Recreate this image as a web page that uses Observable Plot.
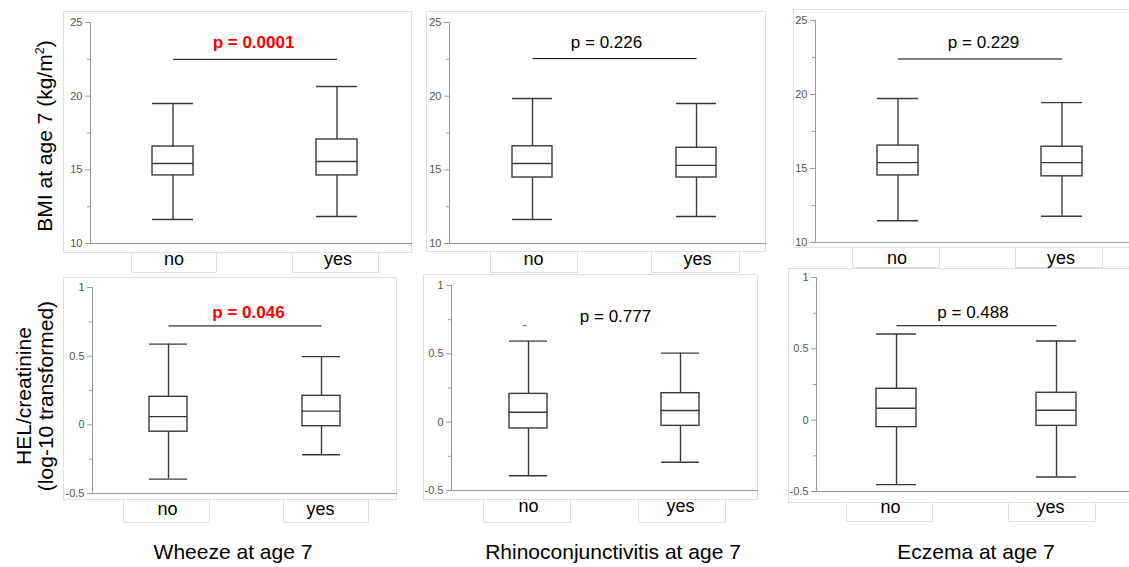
<!DOCTYPE html>
<html><head><meta charset="utf-8">
<script src="https://cdn.jsdelivr.net/npm/d3@7"></script>
<script src="https://cdn.jsdelivr.net/npm/@observablehq/plot@0.6"></script>
<style>
body{margin:0;background:#fff;font-family:"Liberation Sans",Arial,sans-serif;}
#fig{position:relative;width:1129px;height:567px;overflow:hidden;background:#fff;}
.frame{position:absolute;border:1px solid #e0e0e0;box-sizing:border-box;}
.cell{position:absolute;border:1px solid #e0e0e0;border-top:none;box-sizing:border-box;}
.panel{position:absolute;overflow:visible;}
.ytitle{position:absolute;font-size:21px;white-space:nowrap;transform:translate(-50%,-50%) rotate(-90deg);text-align:center;line-height:22px;color:#000;}
.ytitle sup{font-size:0.6em;line-height:0;}
.xtitle{position:absolute;font-size:21px;line-height:22px;transform:translateX(-50%);white-space:nowrap;color:#000;}
</style></head><body><div id="fig"></div>
<script>
// ---------------- data ----------------
const groups = ["no", "yes"];
const exposures = ["Wheeze at age 7", "Rhinoconjunctivitis at age 7", "Eczema at age 7"];
const outcomeTitles = ["BMI at age 7 (kg/m<sup>2</sup>)", "HEL/creatinine<br>(log-10 transformed)"];

// BMI (per exposure: [no, yes])
const bmiLow    = [[11.63, 11.83], [11.63, 11.83], [11.47, 11.77]];
const bmiQ1     = [[14.62, 14.62], [14.48, 14.48], [14.53, 14.47]];
const bmiMedian = [[15.43, 15.57], [15.43, 15.30], [15.40, 15.40]];
const bmiQ3     = [[16.58, 17.06], [16.60, 16.50], [16.55, 16.47]];
const bmiHigh   = [[19.50, 20.66], [19.84, 19.50], [19.73, 19.45]];
const bmiTicks = [10, 15, 20, 25];
const bmiMinorTicks = [12.5, 17.5, 22.5];
const bmiDomain = [10, 25];

// HEL/creatinine (log-10)
const helLow    = [[-0.395, -0.218], [-0.392, -0.293], [-0.452, -0.398]];
const helQ1     = [[-0.050, -0.010], [-0.046, -0.027], [-0.049, -0.040]];
const helMedian = [[0.060, 0.100], [0.073, 0.085], [0.084, 0.070]];
const helQ3     = [[0.204, 0.211], [0.207, 0.212], [0.220, 0.192]];
const helHigh   = [[0.588, 0.497], [0.593, 0.505], [0.604, 0.555]];
const helOutliers = [[], [{group: "no", value: 0.707}], []];
const helTicks = [-0.5, 0, 0.5, 1];
const helMinorTicks = [-0.25, 0.25, 0.75];
const helDomain = [-0.5, 1];

// p-values
const bmiP = ["p = 0.0001", "p = 0.226", "p = 0.229"];
const helP = ["p = 0.046", "p = 0.777", "p = 0.488"];
const bmiSignificant = [true, false, false];
const helSignificant = [true, false, false];
const bmiBracketY = [22.5, 22.55, 22.4];
const helBracketY = [0.72, 0.678, 0.662];
const bmiBracketShown = [true, true, true];
const helBracketShown = [true, false, true];

// ---------------- layout (pixels) ----------------
const layout = [
  [
    {left: 63, top: 11, axisX: 90, yTop: 22, yBot: 243, cNo: 172.5, cYes: 336.5, bw: 41, pDx: 2.5, labelDx: 1,
     frame: [63, 11, 412, 253], cells: [[131, 217], [292, 379]], cellBottom: 273},
    {left: 426, top: 11, axisX: 449, yTop: 22, yBot: 243, cNo: 532, cYes: 696, bw: 40, pDx: -1, labelDx: 1,
     frame: [426, 11, 766, 252], cells: [[490, 578], [651, 740]], cellBottom: 273},
    {left: 793, top: 9, axisX: 815, yTop: 20, yBot: 242, cNo: 897.5, cYes: 1062, bw: 41, pDx: 11, labelDx: -1,
     frame: [793, 9, 1140, 248], cells: [[852, 940], [1015, 1103]], cellBottom: 268}
  ],
  [
    {left: 63, top: 277, axisX: 92, yTop: 287, yBot: 493, cNo: 167.5, cYes: 320.5, bw: 38, pDx: 4, labelDx: -1,
     frame: [63, 277, 397, 500], cells: [[123, 210], [283, 369]], cellBottom: 523},
    {left: 423, top: 274, axisX: 451, yTop: 285, yBot: 490, cNo: 527.5, cYes: 679.5, bw: 38, pDx: 11, labelDx: 0,
     frame: [423, 274, 758, 500], cells: [[483, 571], [638, 726]], cellBottom: 523},
    {left: 788, top: 268, axisX: 816, yTop: 277, yBot: 491, cNo: 896, cYes: 1056, bw: 40, pDx: 0, labelDx: -6,
     frame: [788, 268, 1140, 503], cells: [[846, 933], [1008, 1096]], cellBottom: 522}
  ]
];
const titleLayout = {
  y: [{x: 45, y: 136}, {x: 35, y: 396}],
  x: [{x: 233, top: 541}, {x: 613, top: 541}, {x: 976, top: 541}]
};

const FONT = '"Liberation Sans", Arial, sans-serif';
const axisColor = "#9a9a9a";
const boxColor = "#3a3a3a";
const fig = document.getElementById("fig");

function addDiv(cls, x1, y1, x2, y2) {
  const d = document.createElement("div");
  d.className = cls;
  Object.assign(d.style, {left: x1 + "px", top: y1 + "px", width: (x2 - x1) + "px", height: (y2 - y1) + "px"});
  fig.appendChild(d);
}

function panel(row, col) {
  const L = layout[row][col];
  const bmi = row === 0;
  const src = bmi
    ? {lo: bmiLow, q1: bmiQ1, med: bmiMedian, q3: bmiQ3, hi: bmiHigh}
    : {lo: helLow, q1: helQ1, med: helMedian, q3: helQ3, hi: helHigh};
  const stats = groups.map((g, i) => ({
    group: g, lo: src.lo[col][i], q1: src.q1[col][i], med: src.med[col][i], q3: src.q3[col][i], hi: src.hi[col][i]
  }));
  const pLabel = (bmi ? bmiP : helP)[col];
  const sig = (bmi ? bmiSignificant : helSignificant)[col];
  const bracket = [{from: "no", to: "yes", y: (bmi ? bmiBracketY : helBracketY)[col], label: pLabel}];
  const showBracket = (bmi ? bmiBracketShown : helBracketShown)[col];
  const outliers = bmi ? [] : helOutliers[col];

  // frame & label cells
  const [fx1, fy1, fx2, fy2] = L.frame;
  addDiv("frame", fx1, fy1, fx2, fy2);
  for (const [cx1, cx2] of L.cells) addDiv("cell", cx1, fy2 - 1, cx2, L.cellBottom);

  const step = L.cYes - L.cNo;
  const po = (L.cNo - L.bw / 2 - L.axisX) / step;
  const pi = 1 - L.bw / step;
  const end = L.cYes + L.bw / 2 + step * po;
  const width = Math.round(Math.min(fx2 - 1, 1129) - L.left);
  const marginLeft = L.axisX - L.left;
  const marginRight = 0;
  const marginTop = L.yTop - L.top;
  const marginBottom = 40;
  const height = L.yBot - L.top + marginBottom;

  const chart = Plot.plot({
    width, height, marginLeft, marginRight, marginTop, marginBottom,
    style: {fontFamily: FONT, fontSize: "11px", background: "transparent", overflow: "visible"},
    x: {type: "band", domain: groups, paddingInner: pi, paddingOuter: po, align: 0.5,
        range: [marginLeft, end - L.left], axis: null},
    y: {domain: bmi ? bmiDomain : helDomain, axis: null},
    marks: [
      Plot.frame({anchor: "left", stroke: axisColor}),
      Plot.frame({anchor: "bottom", stroke: axisColor}),
      Plot.axisY(bmi ? bmiTicks : helTicks, {tickSize: 5, tickPadding: 3, tickFormat: d => String(d),
        stroke: axisColor, fill: "#555", fontSize: 11, label: null}),
      Plot.axisY(bmi ? bmiMinorTicks : helMinorTicks, {tickSize: 3, tickFormat: () => "", stroke: axisColor, label: null}),
      Plot.axisX({tickSize: 0, tickPadding: 9, fontSize: 18, fill: "#000", dx: L.labelDx, label: null}),
      Plot.ruleX(stats, {x: "group", y1: "lo", y2: "hi", stroke: boxColor, strokeWidth: 1.4}),
      Plot.barY(stats, {x: "group", y1: "q1", y2: "q3", fill: "white", stroke: boxColor, strokeWidth: 1.4}),
      Plot.tickY(stats, {x: "group", y: "med", stroke: boxColor, strokeWidth: 1.4}),
      Plot.tickY(stats, {x: "group", y: "lo", stroke: boxColor, strokeWidth: 1.4}),
      Plot.tickY(stats, {x: "group", y: "hi", stroke: boxColor, strokeWidth: 1.4}),
      Plot.tickY(outliers, {x: "group", y: "value", stroke: "#777", strokeWidth: 1.2,
        insetLeft: L.bw / 2 - 2, insetRight: L.bw / 2 - 2, dx: -3}),
      showBracket ? Plot.link(bracket, {x1: "from", x2: "to", y1: "y", y2: "y", stroke: "#000", strokeWidth: 1}) : null,
      Plot.text(bracket, {y: "y", text: "label", lineAnchor: "bottom", dy: bmi ? -11 : -8, dx: L.pDx,
        fontSize: 17, fontWeight: sig ? "bold" : "normal", fill: sig ? "#ff0000" : "#000"})
    ]
  });
  chart.classList.add("panel");
  chart.style.left = L.left + "px";
  chart.style.top = L.top + "px";
  fig.appendChild(chart);
}

for (let r = 0; r < 2; r++) for (let c = 0; c < 3; c++) panel(r, c);

outcomeTitles.forEach((t, i) => {
  const d = document.createElement("div");
  d.className = "ytitle";
  d.innerHTML = t;
  d.style.left = titleLayout.y[i].x + "px";
  d.style.top = titleLayout.y[i].y + "px";
  fig.appendChild(d);
});
exposures.forEach((t, i) => {
  const d = document.createElement("div");
  d.className = "xtitle";
  d.textContent = t;
  d.style.left = titleLayout.x[i].x + "px";
  d.style.top = titleLayout.x[i].top + "px";
  fig.appendChild(d);
});
</script></body></html>
